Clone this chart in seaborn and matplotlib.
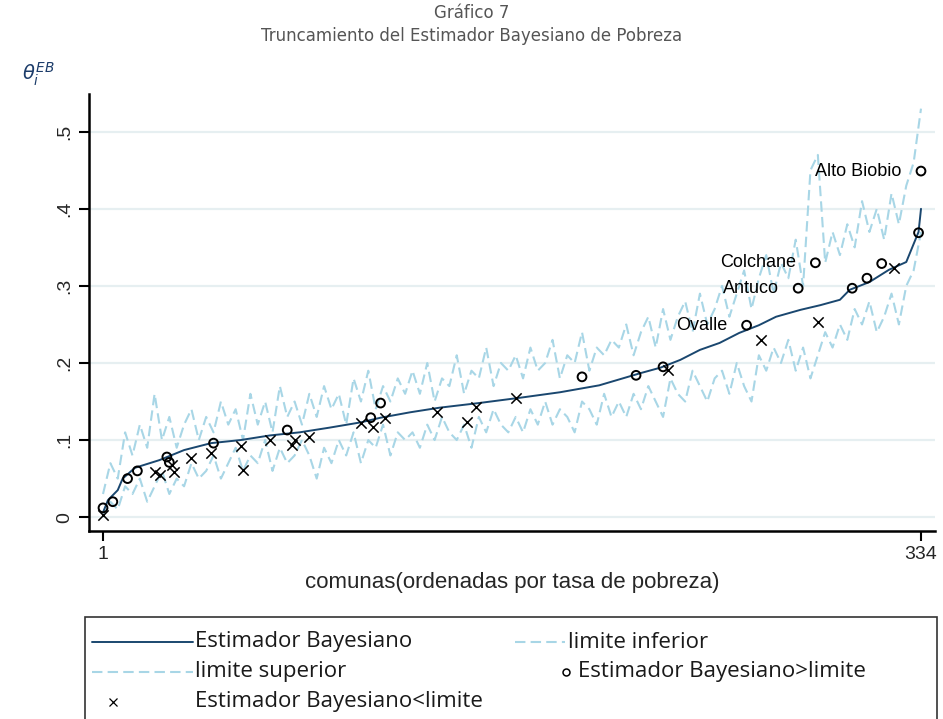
import numpy as np
import pandas as pd
import matplotlib
matplotlib.use("Agg")
import matplotlib.pyplot as plt
from matplotlib.lines import Line2D
from matplotlib.patches import Rectangle
import seaborn as sns

# ---------------- data ----------------
# Estimador Bayesiano (comunas ordered by poverty rate)
eb_x = [1, 3, 7, 9, 14, 24, 34, 45, 57, 69, 81, 93, 106, 114, 126, 138, 154, 171,
        187, 203, 220, 228, 236, 244, 252, 260, 268, 275, 285, 293, 301, 305, 313,
        321, 328, 333, 334]
eb_y = [.006, .022, .035, .05, .064, .074, .087, .096, .10, .106, .11, .116, .123,
        .129, .136, .142, .148, .155, .162, .171, .187, .194, .204, .217, .226, .239,
        .249, .26, .269, .275, .282, .295, .305, .321, .331, .37, .40]

# limits, sampled every 3 comunas (1, 4, ..., 334)
lim_x = list(range(1, 335, 3))
lim_sup = [.03, .07, .05, .11, .08, .12, .09, .16, .10, .13, .09, .12, .14, .10,
           .13, .11, .15, .12, .14, .10, .16, .12, .15, .11, .17, .13, .15, .12,
           .16, .13, .17, .14, .16, .12, .18, .15, .19, .14, .17, .15, .18, .16,
           .19, .16, .20, .15, .18, .17, .21, .16, .19, .18, .22, .17, .20, .19,
           .21, .18, .22, .19, .20, .23, .18, .21, .20, .24, .19, .22, .21, .23,
           .22, .25, .21, .24, .26, .22, .27, .23, .26, .28, .24, .29, .25, .27,
           .30, .26, .29, .32, .27, .31, .34, .29, .33, .31, .36, .30, .45, .47,
           .33, .37, .34, .38, .35, .41, .37, .40, .36, .42, .38, .43, .46, .53]
lim_inf = [.00, .02, .01, .04, .03, .05, .02, .04, .06, .03, .05, .04, .07, .05,
           .06, .08, .05, .07, .09, .06, .08, .07, .10, .06, .09, .07, .08, .10,
           .08, .05, .09, .07, .10, .08, .11, .07, .10, .09, .12, .08, .11, .10,
           .11, .09, .12, .10, .13, .11, .10, .12, .09, .13, .11, .14, .12, .11,
           .13, .11, .14, .12, .15, .12, .14, .13, .11, .15, .14, .12, .16, .13,
           .15, .13, .16, .14, .17, .15, .13, .18, .16, .15, .19, .17, .15, .18,
           .19, .16, .20, .17, .15, .21, .19, .22, .20, .23, .19, .22, .18, .21,
           .24, .22, .25, .23, .27, .25, .28, .24, .26, .29, .25, .30, .32, .37]

# Estimador Bayesiano > limite
may_x = [1, 5, 11, 15, 27, 28, 46, 76, 110, 114, 196, 218, 229, 263, 284, 291, 306,
         312, 318, 333, 334]
may_y = [.012, .02, .05, .06, .078, .071, .096, .113, .129, .148, .182, .184, .195,
         .249, .297, .33, .297, .31, .329, .369, .449]

# Estimador Bayesiano < limite
men_x = [1, 22, 24, 29, 30, 37, 45, 57, 58, 69, 78, 79, 85, 106, 111, 116, 137, 149,
         153, 169, 231, 269, 292, 323]
men_y = [.003, .058, .055, .067, .058, .077, .083, .092, .061, .10, .093, .10, .104,
         .122, .117, .129, .136, .123, .143, .155, .191, .23, .253, .323]

lab_names = ["Alto Biobio", "Colchane", "Antuco", "Ovalle"]
lab_x = [334, 291, 284, 263]
lab_y = [.449, .33, .297, .249]

yticks = [0, .1, .2, .3, .4, .5]
ytick_labels = ["0", ".1", ".2", ".3", ".4", ".5"]
xticks = [1, 334]

# ---------------- plot ----------------
sns.set_style("white")
plt.rcParams['font.family'] = ['Liberation Sans', 'DejaVu Sans']

NAVY = "#1a476f"
LBLUE = "#a8d6e6"
DASH = (0, (5, 2.5))

W, H = 943, 719
fig = plt.figure(figsize=(W / 100, H / 100), dpi=100)
ax = fig.add_axes([89/W, 1 - 531/H, (935 - 89)/W, (531 - 94)/H])

for yv in yticks:
    ax.axhline(yv, color="#e6eff1", lw=1.6, zorder=0)

sns.lineplot(x=lim_x, y=lim_inf, ax=ax, color=LBLUE, lw=1.5,
             linestyle=DASH, estimator=None, sort=False, zorder=1)
sns.lineplot(x=lim_x, y=lim_sup, ax=ax, color=LBLUE, lw=1.5,
             linestyle=DASH, estimator=None, sort=False, zorder=1)
sns.lineplot(x=eb_x, y=eb_y, ax=ax, color=NAVY, lw=1.4,
             estimator=None, sort=False, zorder=2)

sns.scatterplot(x=men_x, y=men_y, ax=ax, marker="x", color="black",
                s=55, linewidths=1.1, zorder=3)
sns.scatterplot(x=may_x, y=may_y, ax=ax, marker="o", s=40, zorder=4)
pts = ax.collections[-1]
pts.set_facecolor("none")
pts.set_edgecolor("black")
pts.set_linewidth(1.4)

for name, xv, yv in zip(lab_names, lab_x, lab_y):
    ax.annotate(name, (xv, yv), xytext=(-14, 0), textcoords="offset points",
                ha="right", va="center", fontsize=13, color="black")

ax.set_xlim(-4.7, 339.7)
ax.set_ylim(-0.018, 0.549)
ax.set_yticks(yticks)
ax.set_yticklabels(ytick_labels, rotation=90, va="center", fontsize=14)
ax.set_xticks(xticks)
ax.set_xticklabels([str(t) for t in xticks], fontsize=14)
ax.tick_params(axis="both", direction="out", length=7, width=1.5, color="black",
               pad=4, left=True, bottom=True)
for side in ["top", "right"]:
    ax.spines[side].set_visible(False)
for side in ["left", "bottom"]:
    ax.spines[side].set_color("black")
    ax.spines[side].set_linewidth(1.8)
ax.set_xlabel("comunas(ordenadas por tasa de pobreza)", fontsize=16, labelpad=6)
ax.set_ylabel("")

fig.text(0.5, 1 - 13/H, "Gráfico 7", ha="center", va="center",
         fontsize=12, color="#555555", family="DejaVu Sans")
fig.text(0.5, 1 - 36/H, "Truncamiento del Estimador Bayesiano de Pobreza",
         ha="center", va="center", fontsize=12, color="#555555", family="DejaVu Sans")
fig.text(22/W, 1 - 74/H, r"$\theta_i^{EB}$", ha="left", va="center",
         fontsize=14, color="#1c3c6a")

# legend box (Stata-style key layout)
def fx(px):
    return px / W

def fy(py):
    return 1 - py / H

leg_font = {"family": "Open Sans", "size": 16, "color": "#1a1a1a"}
rows = [642, 672, 702]
fig.add_artist(Line2D([fx(92), fx(193)], [fy(rows[0])] * 2, color=NAVY, lw=1.4))
fig.add_artist(Line2D([fx(92), fx(193)], [fy(rows[1])] * 2, color=LBLUE, lw=1.5,
                      linestyle=DASH))
fig.add_artist(Line2D([fx(113)], [fy(rows[2])], color="black", marker="x",
                      linestyle="none", markersize=6, mew=0.9))
fig.add_artist(Line2D([fx(515), fx(565)], [fy(rows[0])] * 2, color=LBLUE, lw=1.5,
                      linestyle=DASH))
fig.add_artist(Line2D([fx(566)], [fy(rows[1])], color="black", marker="o",
                      linestyle="none", markersize=5, markerfacecolor="none", mew=1.1))
fig.text(fx(195), fy(rows[0]), "Estimador Bayesiano", va="center", **leg_font)
fig.text(fx(195), fy(rows[1]), "limite superior", va="center", **leg_font)
fig.text(fx(195), fy(rows[2]), "Estimador Bayesiano<limite", va="center", **leg_font)
fig.text(fx(568), fy(rows[0]), "limite inferior", va="center", **leg_font)
fig.text(fx(578), fy(rows[1]), "Estimador Bayesiano>limite", va="center", **leg_font)
fig.patches.append(Rectangle((fx(85), -0.05), fx(937) - fx(85), fy(617) + 0.05,
                             transform=fig.transFigure, fill=False,
                             edgecolor="#333333", lw=1.2))

fig.savefig("out.png", dpi=100)
